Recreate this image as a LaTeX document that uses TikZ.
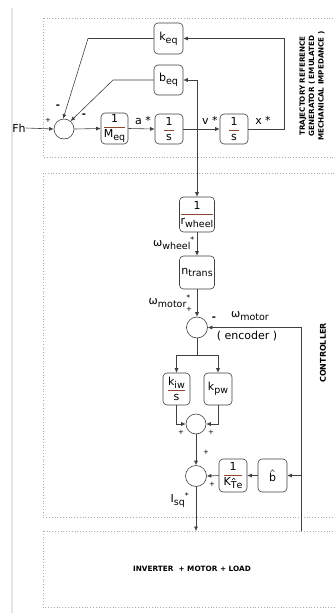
\documentclass[tikz,border=0pt]{standalone}
\usepackage{fontspec}
\setmainfont{DejaVu Sans}
\usepackage{amsmath}
\usetikzlibrary{arrows.meta}
\definecolor{lin}{gray}{0.25}
\definecolor{frc}{RGB}{140,70,50}
\newcommand\sbs[1]{\raisebox{-0.45ex}{\fontsize{9.5}{10}\selectfont #1}}
\newcommand\myfr[2]{{\color{frc}$\dfrac{\color{black}\text{#1}}{\color{black}\text{#2}}$}}
\newcommand\hatx[1]{\tikz[baseline=(hh.base),x=1pt,y=1pt]{\node[shape=rectangle,inner sep=0pt,outer sep=0pt,font=,draw=none,fill=none,minimum width=0pt,minimum height=0pt,rounded corners=0pt,anchor=center](hh) at (0,0){#1};
  \draw[draw=black,line width=0.45pt,line cap=round,line join=round,sharp corners]
  ([xshift=-1.7pt,yshift=1.3pt]hh.north) -- ([yshift=3.2pt]hh.north) -- ([xshift=1.7pt,yshift=1.3pt]hh.north);}}
\begin{document}
\begin{tikzpicture}[x=1pt,y=-1pt,font=\fontsize{11}{13}\selectfont,
  blk/.style={draw=lin,line width=0.6pt,rounded corners=4pt,inner sep=0pt,fill=white},
  sumc/.style={circle,draw=lin,line width=0.6pt,minimum size=20pt,inner sep=0pt},
  arr/.style={draw=lin,line width=0.6pt,-{Latex[length=4.5pt,width=4pt]}},
  ln/.style={draw=lin,line width=0.6pt},
  dbox/.style={draw=gray!65,dotted,line width=0.8pt},
  lab/.style={inner sep=0pt},
  sgn/.style={inner sep=0pt,font=\fontsize{7}{8}\selectfont},
  mns/.style={inner sep=0pt,font=\fontsize{10}{10}\selectfont\bfseries},
  vlab/.style={rotate=90,inner sep=0pt,font=\fontsize{7.2}{9.3}\selectfont\bfseries,align=center}]
\useasboundingbox (0,0) rectangle (335,613);
\clip (0,0) rectangle (335,613);
% left margin line
\draw[gray!20,line width=1.5pt] (12,8) -- (12,613);
% dotted frames
\draw[dbox] (43,18) rectangle (350,157);
\draw[dbox] (43,173) rectangle (350,517);
\draw[dbox] (43,531) rectangle (350,607);
% frame labels
\node[vlab] (tlab) at (312,86) {TRAJECTORY REFERENCE\\GENERATOR ( EMULATED\\MECHANICAL IMPEDANCE )};
\node[vlab,font=\fontsize{8}{9}\selectfont\bfseries] (clab) at (323,353) {CONTROLLER};
\node[lab,font=\fontsize{7.3}{9}\selectfont\bfseries] (ilab) at (192,569) {INVERTER\ \ + MOTOR + LOAD};

% ---- trajectory generator ----
\node[blk,minimum width=29pt,minimum height=31pt] (keq) at (168.5,38.5) {k\sbs{eq}};
\node[blk,minimum width=29pt,minimum height=30pt] (beq) at (168.5,80) {b\sbs{eq}};
\node[sumc] (sum1) at (64,129) {};
\node[blk,minimum width=27pt,minimum height=31pt] (meq) at (114.5,128.5) {\myfr{1}{M\sbs{eq}}};
\node[blk,minimum width=28pt,minimum height=30pt] (int1) at (169,129) {\myfr{1}{\,s\,}};
\node[blk,minimum width=28pt,minimum height=30pt] (int2) at (234,129) {\myfr{1}{\,s\,}};
\node[lab] (fh) at (19,128) {Fh};
\node[sgn] (p1) at (48,120) {+};
\node[mns] (m1) at (58,107) {-};
\node[mns] (m2) at (84,116) {-};
\node[lab] (alab) at (143,120) {a *};
\node[lab] (vlab) at (210,120) {v *};
\node[lab] (xlab) at (263,120) {x *};
\coordinate (jv) at (197,129);
\coordinate (xr) at (284,129);
\coordinate (kb) at (88,38.5);
\coordinate (bb) at (113,80);
\draw[arr] (fh.east) -- (sum1.west);
\draw[arr] (sum1.east) -- (meq.west);
\draw[arr] (meq.east) -- (int1.west);
\draw[arr] (int1.east) -- (int2.west);
\draw[arr] (int2.east) -- (xr) |- (keq.east);
\draw[arr] (jv) |- (beq.east);
\draw[arr] (keq.west) -- (kb) -- (sum1.95);
\draw[arr] (beq.west) -- (bb) -- (sum1.50);

% ---- controller ----
\node[blk,minimum width=34pt,minimum height=35pt] (rw) at (197,214.5) {\myfr{1}{r\sbs{wheel}}};
\node[blk,minimum width=35pt,minimum height=33pt] (nt) at (197,272.5) {n\sbs{trans}};
\node[sumc,minimum size=21pt] (sum2) at (197,327.5) {};
\node[blk,minimum width=27pt,minimum height=32pt] (kiw) at (176.5,389) {\myfr{k\sbs{iw}}{s}};
\node[blk,minimum width=28pt,minimum height=32pt] (kpw) at (218,389) {k\sbs{pw}};
\node[sumc] (sum3) at (196,424) {};
\node[sumc,minimum size=21pt] (sum4) at (196,476) {};
\node[blk,minimum width=28pt,minimum height=33pt] (kte) at (233,475.5) {\myfr{1}{K\sbs{\hatx{T}e}}};
\node[blk,minimum width=29pt,minimum height=33pt] (bh) at (272.5,475.5) {\raisebox{-2pt}{\hatx{b}}};
\draw[arr] (jv) -- (rw.north);
\draw[arr] (rw.south) -- (nt.north);
\draw[arr] (nt.south) -- (sum2.north);
\node[lab,anchor=east] (ww) at (195,243) {ω\sbs{wheel}\textsuperscript{*}};
\node[lab,anchor=east] (wm) at (191,301) {ω\sbs{motor}\textsuperscript{*}};
\node[sgn] (p2) at (189,309) {+};
\node[mns] (m3) at (214,319) {-};
\node[lab] (wmf) at (250,316) {ω\sbs{motor}};
\node[lab] (enc) at (247,336) {( encoder )};
\coordinate (fbb) at (301,531);
\draw[arr] (fbb) |- (sum2.east);
\draw[arr] (fbb |- bh.east) -- (bh.east);
\coordinate (sp) at (197,355);
\draw[ln] (sum2.south) -- (sp);
\draw[arr] (sp) -| (kiw.north);
\draw[arr] (sp) -| (kpw.north);
\draw[arr] (kiw.south) |- (sum3.west);
\draw[arr] (kpw.south) |- (sum3.east);
\node[sgn] (p3) at (181,432) {+};
\node[sgn] (p4) at (211,432) {+};
\draw[arr] (sum3.south) -- (sum4.north);
\node[sgn] (p5) at (206,452) {+};
\draw[arr] (bh.west) -- (kte.east);
\draw[arr] (kte.west) -- (sum4.east);
\node[sgn] (p6) at (212,484) {+};
\coordinate (invt) at (196,531);
\draw[arr] (sum4.south) -- (invt);
\node[lab] (isq) at (180,500) {I\sbs{sq}\textsuperscript{*}};
\end{tikzpicture}
\end{document}
